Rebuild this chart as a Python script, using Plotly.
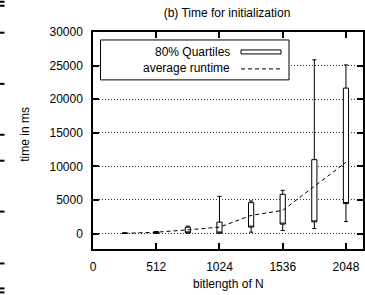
import plotly.graph_objects as go

# ---- data ----
bitlengths = [256, 512, 768, 1024, 1280, 1536, 1792, 2048]
q_low = [20, 60, 100, 80, 960, 1400, 1740, 4460]
q_high = [80, 250, 950, 1700, 4600, 5840, 11000, 21650]
whisker_low = [10, 40, 60, 50, 200, 450, 740, 1780]
whisker_high = [100, 300, 1100, 5540, 4850, 6440, 25860, 25100]
avg_runtime = [30, 200, 550, 950, 2700, 3450, 7030, 10600]
x_ticks = [0, 512, 1024, 1536, 2048]
y_ticks = [0, 5000, 10000, 15000, 20000, 25000, 30000]

FONT = "Liberation Sans, Arial, sans-serif"
W, H = 365, 295
L, R, T, B = 93, 363, 32, 249.5


def px(x):
    return (x - L) / (R - L)


def py(y):
    return (B - y) / (B - T)


fig = go.Figure()

fig.add_trace(go.Box(
    x=bitlengths,
    q1=q_low, median=q_low, q3=q_high,
    lowerfence=whisker_low, upperfence=whisker_high,
    width=42, whiskerwidth=0.8,
    fillcolor="white",
    line=dict(color="black", width=1),
    boxpoints=False,
    name="80% Quartiles",
    showlegend=False,
))

fig.add_trace(go.Scatter(
    x=bitlengths, y=avg_runtime,
    mode="lines",
    line=dict(color="black", width=1, dash="4px,3px"),
    name="average runtime",
    showlegend=False,
))

shapes = []
# legend box
shapes.append(dict(type="rect", xref="paper", yref="paper",
                   x0=px(100.5), x1=px(289), y0=py(80), y1=py(40),
                   line=dict(color="black", width=1), fillcolor="white", layer="above"))
shapes.append(dict(type="rect", xref="paper", yref="paper",
                   x0=px(241), x1=px(281), y0=py(54), y1=py(50),
                   line=dict(color="black", width=1), fillcolor="white", layer="above"))
shapes.append(dict(type="line", xref="paper", yref="paper",
                   x0=px(241), x1=px(281), y0=py(69), y1=py(69),
                   line=dict(color="black", width=1, dash="4px,3px"), layer="above"))
# stray marks on the left edge (from the neighbouring panel)
for yy in [1.7, 5.7, 32.7, 84, 135, 161, 212, 264, 289, 293]:
    shapes.append(dict(type="rect", xref="paper", yref="paper",
                       x0=px(0), x1=px(4.5), y0=py(yy + 1), y1=py(yy - 1),
                       line=dict(width=0), fillcolor="black"))

annotations = [
    dict(text="80% Quartiles", xref="paper", yref="paper", x=px(232), y=py(52),
         xanchor="right", yanchor="middle", showarrow=False,
         font=dict(family=FONT, size=12, color="black")),
    dict(text="average runtime", xref="paper", yref="paper", x=px(232), y=py(68.5),
         xanchor="right", yanchor="middle", showarrow=False,
         font=dict(family=FONT, size=12, color="black")),
    dict(text="bitlength of N", xref="paper", yref="paper", x=px(228), y=py(285),
         xanchor="center", yanchor="middle", showarrow=False,
         font=dict(family=FONT, size=12, color="black")),
    dict(text="time in ms", xref="paper", yref="paper", x=px(25), y=py(135),
         xanchor="center", yanchor="middle", showarrow=False, textangle=-90,
         font=dict(family=FONT, size=12, color="black")),
]

fig.update_layout(
    width=W, height=H,
    margin=dict(l=L, r=W - R, t=T, b=H - B, pad=0, autoexpand=False),
    paper_bgcolor="white", plot_bgcolor="white",
    font=dict(family=FONT, size=12, color="black"),
    title=dict(text="(b) Time for initialization", x=227 / W, y=1 - 13 / H,
               xanchor="center", yanchor="middle", automargin=False,
               font=dict(family=FONT, size=12, color="black")),
    shapes=shapes,
    annotations=annotations,
    showlegend=False,
)

fig.update_xaxes(
    range=[0, 2186], tickvals=x_ticks, ticktext=[str(v) for v in x_ticks],
    showgrid=False, zeroline=False, automargin=False,
    showline=True, linecolor="black", linewidth=1.5, mirror="ticks",
    ticks="inside", ticklen=6, tickcolor="black", tickwidth=1.5,
    ticklabelstandoff=6,
)
fig.update_yaxes(
    range=[-2300, 30000], tickvals=y_ticks, ticktext=[str(v) for v in y_ticks],
    showgrid=True, gridcolor="#333", gridwidth=1, griddash="1px,2px",
    zeroline=False, automargin=False,
    showline=True, linecolor="black", linewidth=1.5, mirror="ticks",
    ticks="inside", ticklen=6, tickcolor="black", tickwidth=1.5,
    ticklabelstandoff=6,
)

fig.write_html(
    "out.html",
    config={"displayModeBar": False},
    post_script="document.body.style.margin='0';document.body.style.overflow='hidden';",
)
